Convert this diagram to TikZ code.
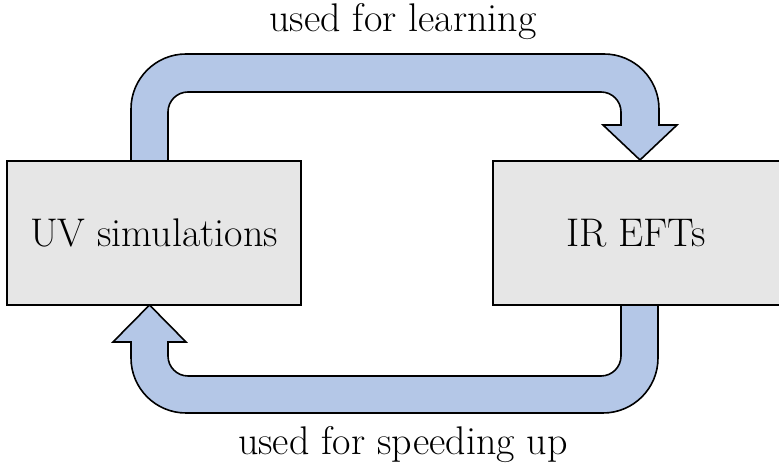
\documentclass[tikz,border=0pt]{standalone}
\usepackage{fontspec}
\definecolor{bandblue}{HTML}{B4C7E7}
\definecolor{boxgray}{HTML}{E6E6E6}
\tikzset{
  box/.style={draw=black, line width=1.6pt, fill=boxgray, minimum width=294pt, minimum height=144pt, inner sep=0pt, font=\fontsize{40}{48}\selectfont},
  band/.style={draw=black, line width=1.6pt, fill=bandblue, line join=miter},
  lbl/.style={font=\fontsize{40}{48}\selectfont, inner sep=0pt}
}
\begin{document}
\begin{tikzpicture}[x=1pt,y=1pt]
\useasboundingbox (0,0) rectangle (779,465);
% top band: UV -> IR
\draw[band] (131,304) -- (131,356) arc[start angle=180,end angle=90,radius=55]
  -- (604,411) arc[start angle=90,end angle=0,radius=55]
  -- (659,340) -- (677,340) -- (640,305) -- (603,340) -- (621,340)
  -- (621,353) arc[start angle=0,end angle=90,radius=20]
  -- (188,373) arc[start angle=90,end angle=180,radius=20]
  -- (168,304) -- cycle;
% bottom band: IR -> UV
\draw[band] (658,160) -- (658,107) arc[start angle=0,end angle=-90,radius=55]
  -- (186,52) arc[start angle=270,end angle=180,radius=55]
  -- (131,123) -- (113,123) -- (149.5,160) -- (186,123) -- (168,123)
  -- (168,109) arc[start angle=180,end angle=270,radius=20]
  -- (601,89) arc[start angle=270,end angle=360,radius=20]
  -- (621,160) -- cycle;
\node[box] (uv) at (154,232) {UV simulations};
\node[box] (ir) at (640,232) {};
\node[lbl] (irtext) at (636,232) {IR EFTs};
\node[lbl, anchor=base] (learn) at (403,433) {used for learning};
\node[lbl, anchor=base] (speed) at (403,10) {used for speeding up};
\end{tikzpicture}
\end{document}
